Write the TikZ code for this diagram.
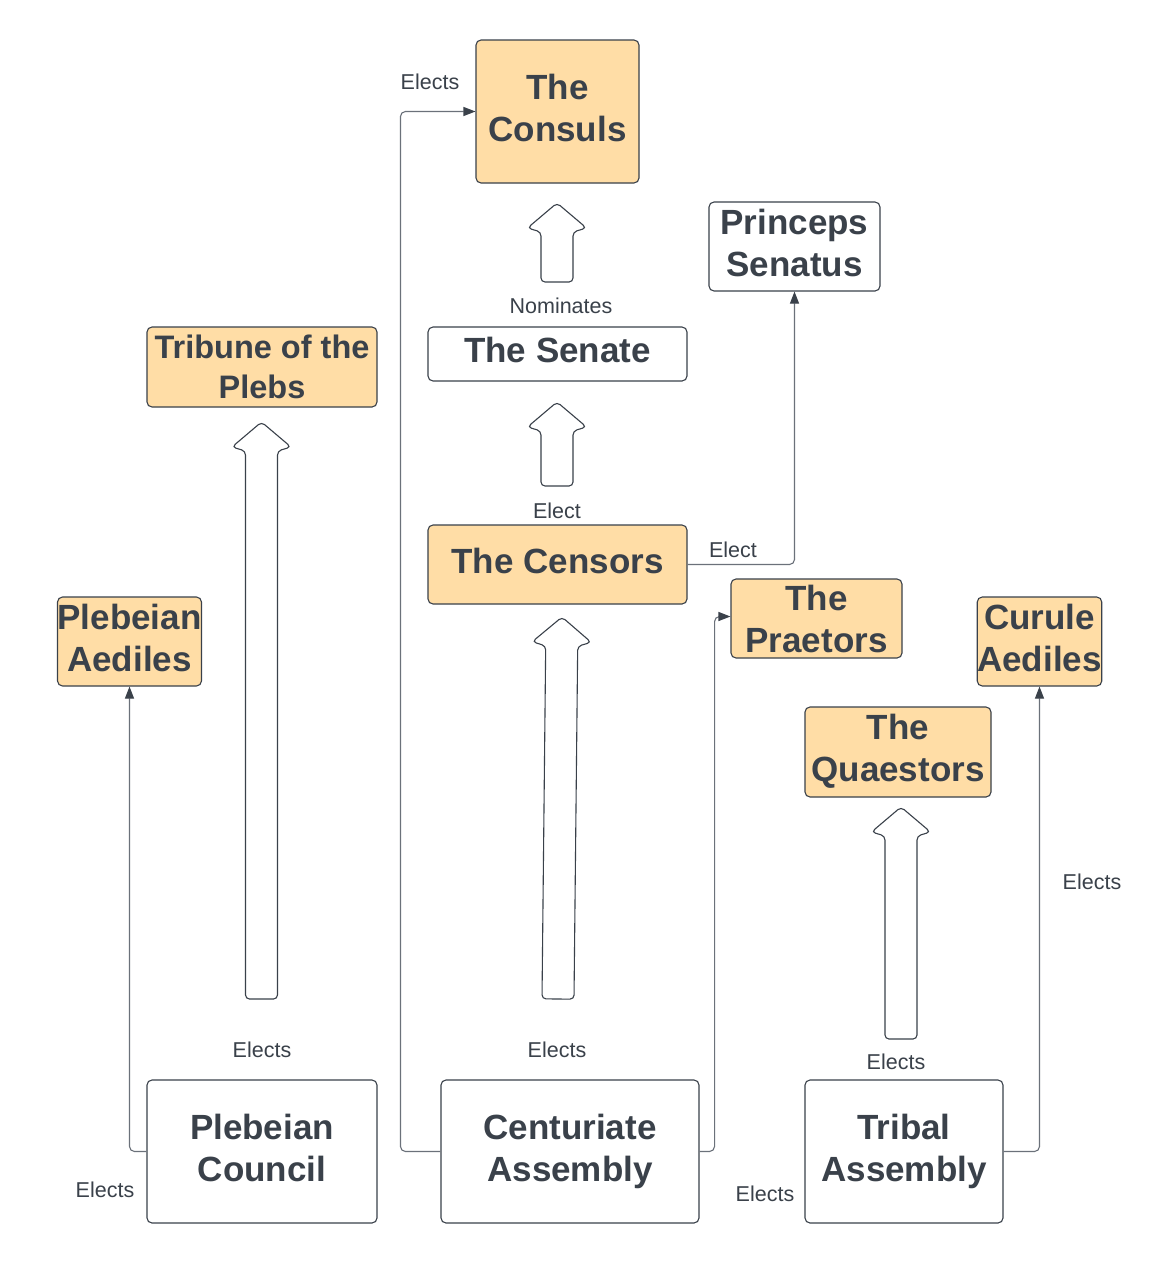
\documentclass[tikz,border=0pt]{standalone}
\usepackage{fontspec}
\setmainfont{Liberation Sans}
\usetikzlibrary{arrows.meta}
\definecolor{ink}{HTML}{3A414A}
\definecolor{wire}{HTML}{6B717A}
\definecolor{peach}{HTML}{FFDDA6}
\tikzset{
  plain/.style={draw=ink, line width=1.1pt, rounded corners=5pt, inner sep=0pt,
    align=center, text=ink, font=\bfseries\fontsize{35}{42}\selectfont},
  box/.style={plain, execute at end node={\vphantom{gy}}},
  hot/.style={box, fill=peach},
  cold/.style={box, fill=white},
  lbl/.style={text=ink, inner sep=0pt, font=\fontsize{21.5}{26}\selectfont},
  conn/.style={draw=wire, line width=1.1pt, rounded corners=5pt,
    -{Triangle[length=12pt,width=9pt,color=ink]}},
  barrow/.style={draw=ink, line width=1.1pt, fill=white, rounded corners=4pt},
}
\newcommand\blockarrow[4]{% base x, base y, length, angle
  \begin{scope}[shift={(#1,#2)}, rotate=#4]
    \path[barrow] (0,-#3) -- (29.5,-#3+25) -- (16,-#3+29) -- (16,0) -- (-16,0)
      -- (-16,-#3+29) -- (-29.5,-#3+25) -- cycle;
  \end{scope}}
\begin{document}
\begin{tikzpicture}[x=1pt,y=-1pt]
\useasboundingbox[fill=white] (0,0) rectangle (1164,1267);
% boxes
\node[hot, minimum width=163, minimum height=143] (consuls) at (557.5,111.5) {The\\Consuls};
\node[cold, minimum width=171, minimum height=89] (princeps) at (794.5,246.5) {Princeps\\Senatus};
\node[plain, fill=peach, minimum width=230, minimum height=80,
  font=\bfseries\fontsize{32.5}{40}\selectfont] (tribune) at (262,367) {Tribune of the\\Plebs};
\node[cold, minimum width=259, minimum height=54] (senate) at (557.5,354) {The Senate};
\node[hot, minimum width=259, minimum height=79] (censors) at (557.5,564.5) {The Censors};
\node[hot, minimum width=141, minimum height=89] (pleaed) at (129.5,641.5) {Plebeian\\Aediles};
\node[plain, fill=peach, minimum width=171, minimum height=79,
  execute at begin node={\rule{0pt}{31.5pt}}] (praetors) at (816.5,618.5) {The\\Praetors};
\node[hot, minimum width=121, minimum height=89] (curule) at (1039.5,641.5) {Curule\\Aediles};
\node[hot, minimum width=186, minimum height=90] (quaestors) at (898,752) {The\\Quaestors};
\node[cold, minimum width=230, minimum height=143] (plebcouncil) at (262,1151.5) {Plebeian\\Council};
\node[cold, minimum width=258, minimum height=143] (centuriate) at (570,1151.5) {Centuriate\\Assembly};
\node[cold, minimum width=198, minimum height=143] (tribal) at (904,1151.5) {Tribal\\Assembly};
% block arrows
\blockarrow{557}{282}{79}{0}
\blockarrow{557}{486}{84}{0}
\blockarrow{261.5}{999}{577}{0}
\blockarrow{558}{999}{382}{-0.6}
\blockarrow{901}{1039}{232}{0}
% connectors
\draw[conn] (centuriate.west) -- ++(-40,0) |- (consuls.west);
\draw[conn] (centuriate.east) -- ++(15,0) |- ([yshift=2]praetors.west);
\draw[conn] (censors.east) -| (princeps.south);
\draw[conn] (plebcouncil.west) -| (pleaed.south);
\draw[conn] (tribal.east) -| (curule.south);
% labels
\node[lbl] (l1) at (430,82) {Elects};
\node[lbl] (l2) at (561,306) {Nominates};
\node[lbl] (l3) at (557,511) {Elect};
\node[lbl] (l4) at (733,550) {Elect};
\node[lbl] (l5) at (262,1050) {Elects};
\node[lbl] (l6) at (557,1050) {Elects};
\node[lbl] (l7) at (896,1062) {Elects};
\node[lbl] (l8) at (105,1190) {Elects};
\node[lbl] (l9) at (765,1194) {Elects};
\node[lbl] (l10) at (1092,882) {Elects};
\end{tikzpicture}
\end{document}
